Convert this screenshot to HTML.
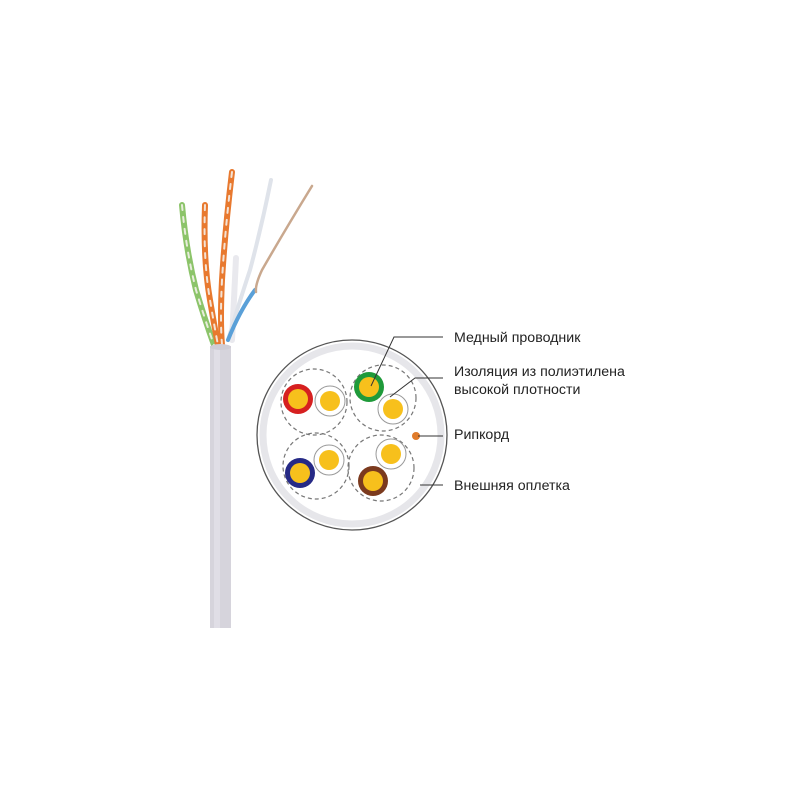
<!DOCTYPE html>
<html><head><meta charset="utf-8"><style>
html,body{margin:0;padding:0;background:#fff;}
svg{display:block;}
text{font-family:"Liberation Sans","DejaVu Sans",sans-serif;font-size:14.2px;fill:#222;}
</style></head><body>
<svg width="800" height="800" viewBox="0 0 800 800" xmlns="http://www.w3.org/2000/svg">
<rect width="800" height="800" fill="#fff"/>
<g fill="none" stroke-linecap="round">
<path d="M182 205 Q186 250 196 290 Q205 320 214 345" stroke="#8cc46a" stroke-width="6"/>
<path d="M182 205 Q186 250 196 290 Q205 320 214 345" stroke="#e8eddc" stroke-width="2" stroke-dasharray="5 7"/>
<path d="M205 205 Q203 260 210 300 Q215 330 218 345" stroke="#e8792f" stroke-width="6"/>
<path d="M205 205 Q203 260 210 300 Q215 330 218 345" stroke="#f3e3d6" stroke-width="2" stroke-dasharray="5 7"/>
<path d="M232 172 Q225 230 222 280 Q220 320 222 345" stroke="#e8792f" stroke-width="6"/>
<path d="M232 172 Q225 230 222 280 Q220 320 222 345" stroke="#f3e3d6" stroke-width="2" stroke-dasharray="5 7"/>
<path d="M236 258 L232 340" stroke="#e9e9ee" stroke-width="6"/>
<path d="M271 180 Q262 225 250 270 Q240 300 228 340" stroke="#dfe3ea" stroke-width="4"/>
<path d="M255 290 Q240 310 228 340" stroke="#5aa0d8" stroke-width="4"/>
<path d="M312 186 Q285 230 262 270 Q255 285 256 292" stroke="#c9a88e" stroke-width="2.5"/>
</g>
<rect x="210" y="346" width="21" height="282" fill="#d6d4dc"/>
<rect x="214" y="346" width="6" height="282" fill="#e0dee6"/>
<ellipse cx="220.5" cy="347" rx="10.5" ry="3" fill="#cfcdd6"/>
<circle cx="352" cy="435" r="95" fill="#fff" stroke="#555" stroke-width="1.3"/>
<circle cx="352" cy="435" r="89" fill="none" stroke="#e6e6ea" stroke-width="7"/>
<g fill="none" stroke="#777" stroke-width="1.2" stroke-dasharray="4 3">
<circle cx="314" cy="402" r="33"/>
<circle cx="383" cy="398" r="33"/>
<circle cx="316" cy="466" r="33"/>
<circle cx="381" cy="468" r="33"/>
</g>
<circle cx="298" cy="399" r="15" fill="#d62020"/><circle cx="298" cy="399" r="10" fill="#f7c01c"/>
<circle cx="330" cy="401" r="15" fill="#fff" stroke="#999"/><circle cx="330" cy="401" r="10" fill="#f7c01c"/>
<circle cx="369" cy="387" r="15" fill="#1f9a3a"/><circle cx="369" cy="387" r="10" fill="#f7c01c"/>
<circle cx="393" cy="409" r="15" fill="#fff" stroke="#999"/><circle cx="393" cy="409" r="10" fill="#f7c01c"/>
<circle cx="300" cy="473" r="15" fill="#262a86"/><circle cx="300" cy="473" r="10" fill="#f7c01c"/>
<circle cx="329" cy="460" r="15" fill="#fff" stroke="#999"/><circle cx="329" cy="460" r="10" fill="#f7c01c"/>
<circle cx="391" cy="454" r="15" fill="#fff" stroke="#999"/><circle cx="391" cy="454" r="10" fill="#f7c01c"/>
<circle cx="373" cy="481" r="15" fill="#7b3a1e"/><circle cx="373" cy="481" r="10" fill="#f7c01c"/>
<circle cx="416" cy="436" r="4" fill="#e07b2a"/>
<g stroke="#333" stroke-width="1" fill="none">
<polyline points="371,386 394,337 443,337"/>
<polyline points="390,397 415,378 443,378"/>
<line x1="418" y1="436" x2="443" y2="436"/>
<line x1="420" y1="485" x2="443" y2="485"/>
</g>
<text x="454" y="342">Медный проводник</text>
<text x="454" y="376">Изоляция из полиэтилена</text>
<text x="454" y="394">высокой плотности</text>
<text x="454" y="439">Рипкорд</text>
<text x="454" y="490">Внешняя оплетка</text>
</svg>
</body></html>
